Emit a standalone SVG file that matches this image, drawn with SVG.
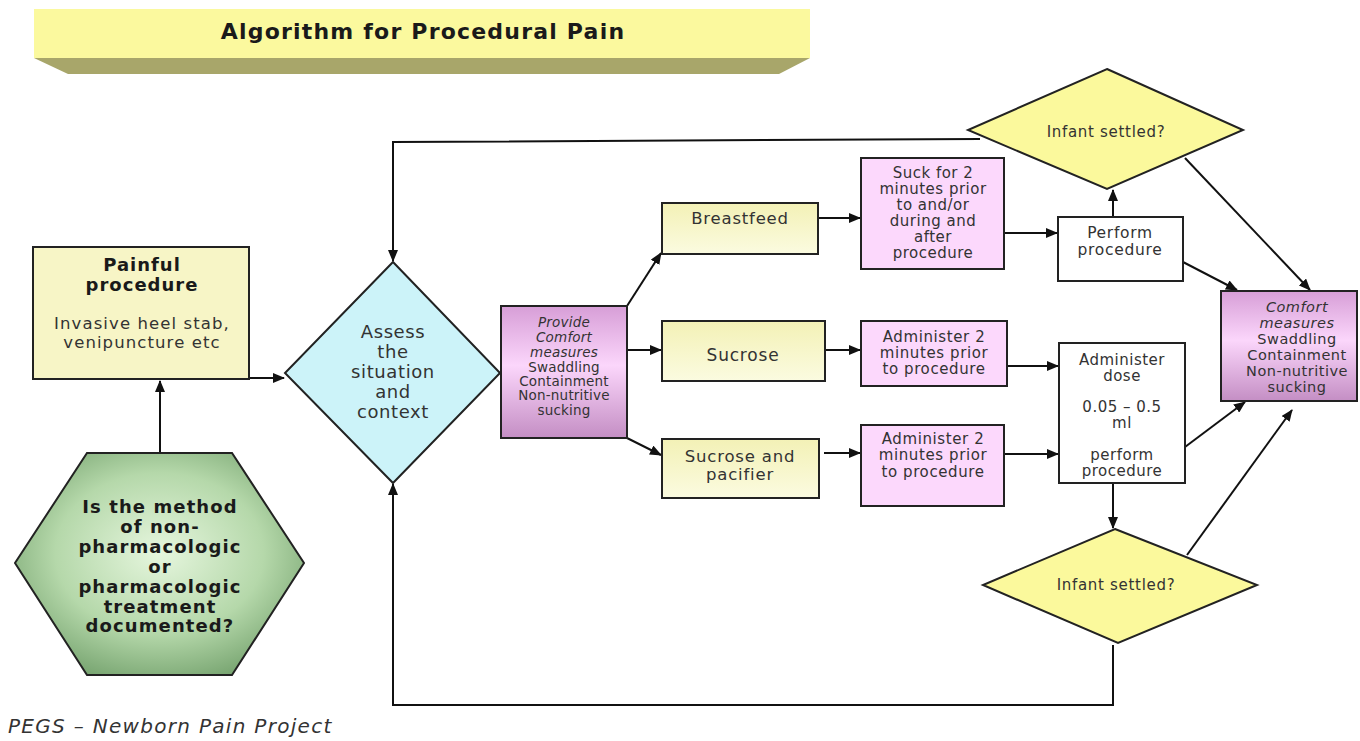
<svg xmlns="http://www.w3.org/2000/svg" width="1360" height="741" viewBox="0 0 1360 741">
<style>
text{font-family:"DejaVu Sans","Noto Sans",sans-serif;fill:#333;text-anchor:middle}
.b{font-weight:bold;fill:#1a1a1a}
.i{font-style:italic}
.s{stroke:#222;stroke-width:2}
.c{fill:none;stroke:#111;stroke-width:2}
.a{marker-end:url(#ah)}
</style>
<defs>
<marker id="ah" markerWidth="12" markerHeight="10" refX="11" refY="5" orient="auto" markerUnits="userSpaceOnUse">
<path d="M0,0 L12,5 L0,10 Z" fill="#111"/>
</marker>
<linearGradient id="yel" x1="0" y1="0" x2="0" y2="1">
<stop offset="0" stop-color="#f3f1b6"/><stop offset="1" stop-color="#fbfbe0"/>
</linearGradient>
<linearGradient id="pur" x1="0" y1="0" x2="0" y2="1">
<stop offset="0" stop-color="#d79ed7"/><stop offset="0.45" stop-color="#fbd6fb"/><stop offset="1" stop-color="#c48ec4"/>
</linearGradient>
<radialGradient id="grn" cx="0.5" cy="0.45" r="0.6">
<stop offset="0" stop-color="#e6f6de"/><stop offset="0.6" stop-color="#b5d8aa"/><stop offset="1" stop-color="#78a571"/>
</radialGradient>
</defs>

<g id="title">
<polygon points="34,58 810,58 779,74 68,74" fill="#a8a66a"/>
<rect x="34" y="9" width="776" height="49" fill="#fbf99e"/>
<text x="423" y="39" class="b" style="font-size:22px;letter-spacing:1.2px">Algorithm for Procedural Pain</text>
</g>

<g id="connectors">
<path class="c a" d="M160,453 L160,381"/>
<path class="c a" d="M249,378 L284,378"/>
<path class="c a" d="M627,306 L661,253"/>
<path class="c a" d="M627,350 L661,350"/>
<path class="c a" d="M627,438 L661,455"/>
<path class="c a" d="M818,218 L860,218"/>
<path class="c a" d="M825,350 L860,350"/>
<path class="c a" d="M824,453 L860,453"/>
<path class="c a" d="M1004,233 L1057,233"/>
<path class="c a" d="M1007,366 L1058,366"/>
<path class="c a" d="M1004,454 L1058,454"/>
<path class="c a" d="M1113,217 L1113,190"/>
<path class="c a" d="M1183,262 L1237,290"/>
<path class="c a" d="M1185,158 L1310,290"/>
<path class="c a" d="M1185,447 L1245,402"/>
<path class="c a" d="M1113,483 L1113,528"/>
<path class="c a" d="M1187,555 L1292,410"/>
<path class="c a" d="M980,139 L393,142 L393,261"/>
<path class="c a" d="M1113,645 L1113,705 L393,705 L393,484"/>
</g>

<g id="painful">
<rect x="33" y="247" width="216" height="132" fill="#f7f5c6" class="s"/>
<g style="font-size:18px;letter-spacing:1px">
<text x="142" y="271" class="b">Painful</text>
<text x="142" y="291" class="b">procedure</text>
</g>
<g style="font-size:16.5px;letter-spacing:1.1px">
<text x="142" y="329">Invasive heel stab,</text>
<text x="142" y="348">venipuncture etc</text>
</g>
</g>

<g id="hexagon">
<polygon points="87,453 232,453 304,563 232,675 87,675 15,563" fill="url(#grn)" class="s"/>
<g style="font-size:18px;letter-spacing:1.1px">
<text x="160" y="513" class="b">Is the method</text>
<text x="160" y="533" class="b">of non-</text>
<text x="160" y="553" class="b">pharmacologic</text>
<text x="160" y="573" class="b">or</text>
<text x="160" y="593" class="b">pharmacologic</text>
<text x="160" y="613" class="b">treatment</text>
<text x="160" y="632" class="b">documented?</text>
</g>
</g>

<g id="assess">
<polygon points="393,262 500,373 393,483 285,373" fill="#ccf3f9" class="s"/>
<g style="font-size:18px;letter-spacing:0.6px">
<text x="393" y="338">Assess</text>
<text x="393" y="358">the</text>
<text x="393" y="378">situation</text>
<text x="393" y="398">and</text>
<text x="393" y="418">context</text>
</g>
</g>

<g id="provide">
<rect x="501" y="306" width="126" height="132" fill="url(#pur)" class="s"/>
<g style="font-size:13.5px;letter-spacing:0.2px">
<text x="564" y="327" class="i">Provide</text>
<text x="564" y="342" class="i">Comfort</text>
<text x="564" y="357" class="i">measures</text>
<text x="564" y="372">Swaddling</text>
<text x="564" y="386">Containment</text>
<text x="564" y="400">Non-nutritive</text>
<text x="564" y="415">sucking</text>
</g>
</g>

<g id="breastfeed">
<rect x="662" y="203" width="156" height="51" fill="url(#yel)" class="s"/>
<text x="740" y="224" style="font-size:16.5px;letter-spacing:0.8px">Breastfeed</text>
</g>

<g id="sucrose">
<rect x="662" y="321" width="163" height="60" fill="url(#yel)" class="s"/>
<text x="743" y="361" style="font-size:17px;letter-spacing:0.8px">Sucrose</text>
</g>

<g id="sucrose-pacifier">
<rect x="662" y="439" width="157" height="59" fill="url(#yel)" class="s"/>
<g style="font-size:16.5px;letter-spacing:0.8px">
<text x="740" y="462">Sucrose and</text>
<text x="740" y="480">pacifier</text>
</g>
</g>

<g id="suck">
<rect x="861" y="158" width="143" height="111" fill="#fcd8fc" class="s"/>
<g style="font-size:15px;letter-spacing:0.5px">
<text x="933" y="178">Suck for 2</text>
<text x="933" y="194">minutes prior</text>
<text x="933" y="210">to and/or</text>
<text x="933" y="226">during and</text>
<text x="933" y="242">after</text>
<text x="933" y="258">procedure</text>
</g>
</g>

<g id="administer1">
<rect x="861" y="321" width="146" height="65" fill="#fcd8fc" class="s"/>
<g style="font-size:15px;letter-spacing:0.6px">
<text x="934" y="342">Administer 2</text>
<text x="934" y="358">minutes prior</text>
<text x="934" y="374">to procedure</text>
</g>
</g>

<g id="administer2">
<rect x="861" y="425" width="143" height="81" fill="#fcd8fc" class="s"/>
<g style="font-size:15px;letter-spacing:0.6px">
<text x="933" y="444">Administer 2</text>
<text x="933" y="460">minutes prior</text>
<text x="933" y="477">to procedure</text>
</g>
</g>

<g id="perform">
<rect x="1058" y="217" width="125" height="64" fill="#ffffff" class="s"/>
<g style="font-size:15.5px;letter-spacing:0.7px">
<text x="1120" y="238">Perform</text>
<text x="1120" y="255">procedure</text>
</g>
</g>

<g id="dose">
<rect x="1059" y="343" width="126" height="140" fill="#ffffff" class="s"/>
<g style="font-size:15px;letter-spacing:0.5px">
<text x="1122" y="365">Administer</text>
<text x="1122" y="381">dose</text>
<text x="1122" y="412">0.05 – 0.5</text>
<text x="1122" y="428">ml</text>
<text x="1122" y="460">perform</text>
<text x="1122" y="476">procedure</text>
</g>
</g>

<g id="settled-top">
<polygon points="1107,69 1243,130 1107,189 968,130" fill="#fbf99c" class="s"/>
<text x="1106" y="137" style="font-size:15px;letter-spacing:0.7px">Infant settled?</text>
</g>

<g id="settled-bottom">
<polygon points="1115,529 1257,585 1118,643 983,585" fill="#fbf99c" class="s"/>
<text x="1116" y="590" style="font-size:15px;letter-spacing:0.7px">Infant settled?</text>
</g>

<g id="comfort">
<rect x="1221" y="291" width="136" height="110" fill="url(#pur)" class="s"/>
<g style="font-size:14.5px;letter-spacing:0.5px">
<text x="1297" y="312" class="i">Comfort</text>
<text x="1297" y="328" class="i">measures</text>
<text x="1297" y="344">Swaddling</text>
<text x="1297" y="360">Containment</text>
<text x="1297" y="376">Non-nutritive</text>
<text x="1297" y="392">sucking</text>
</g>
</g>

<g id="footer">
<text x="8" y="733" class="i" style="font-size:20px;letter-spacing:1.3px;text-anchor:start">PEGS – Newborn Pain Project</text>
</g>
</svg>
